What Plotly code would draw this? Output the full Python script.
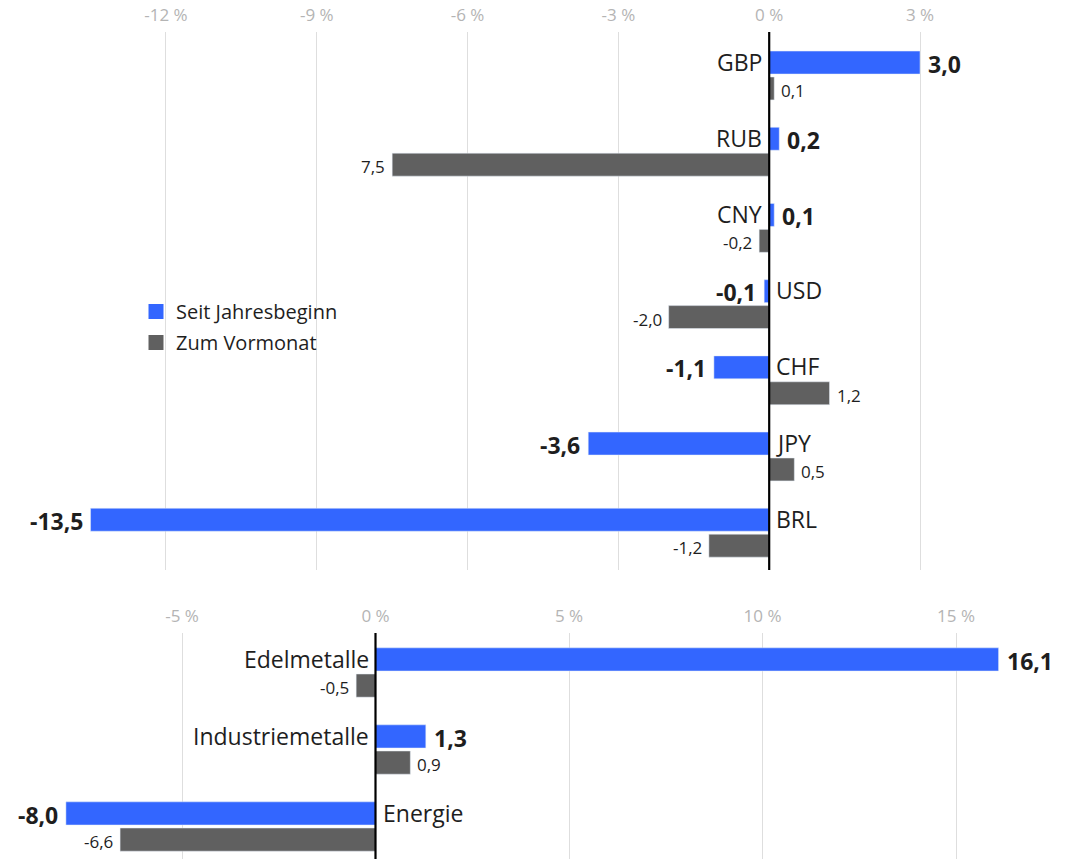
import plotly.graph_objects as go

# ---------------- data ----------------
currencies = ["GBP", "RUB", "CNY", "USD", "CHF", "JPY", "BRL"]
cur_ytd = [3.0, 0.2, 0.1, -0.1, -1.1, -3.6, -13.5]          # Seit Jahresbeginn
cur_mom = [0.1, -7.5, -0.2, -2.0, 1.2, 0.5, -1.2]           # Zum Vormonat (bar as drawn)
cur_mom_labels = ["0,1", "7,5", "-0,2", "-2,0", "1,2", "0,5", "-1,2"]

commodities = ["Edelmetalle", "Industriemetalle", "Energie"]
com_ytd = [16.1, 1.3, -8.0]
com_mom = [-0.5, 0.9, -6.6]
com_mom_labels = ["-0,5", "0,9", "-6,6"]

top_tickvals = [-12, -9, -6, -3, 0, 3]
top_ticktext = ["-12 %", "-9 %", "-6 %", "-3 %", "0 %", "3 %"]
bot_tickvals = [-5, 0, 5, 10, 15]
bot_ticktext = ["-5 %", "0 %", "5 %", "10 %", "15 %"]

series_names = ["Seit Jahresbeginn", "Zum Vormonat"]

# ---------------- style ----------------
BLUE = "#3366FF"
GRAY = "#606060"
TXT = "#1e1e1e"
FONT = "Open Sans"
W, H = 1075, 859


def fmt(v):
    return f"{v:.1f}".replace(".", ",")


fig = go.Figure()

# top panel bars
fig.add_trace(go.Bar(y=currencies, x=cur_ytd, orientation="h", marker_color=BLUE,
                     xaxis="x", yaxis="y", showlegend=False, hoverinfo="x+y"))
fig.add_trace(go.Bar(y=currencies, x=cur_mom, orientation="h", marker_color=GRAY,
                     xaxis="x", yaxis="y", showlegend=False, hoverinfo="x+y"))
# bottom panel bars
fig.add_trace(go.Bar(y=commodities, x=com_ytd, orientation="h", marker_color=BLUE,
                     xaxis="x2", yaxis="y2", showlegend=False, hoverinfo="x+y"))
fig.add_trace(go.Bar(y=commodities, x=com_mom, orientation="h", marker_color=GRAY,
                     xaxis="x2", yaxis="y2", showlegend=False, hoverinfo="x+y"))

# legend entries
for name, col in zip(series_names, [BLUE, GRAY]):
    fig.add_trace(go.Scatter(x=[None], y=[None], mode="markers", name=name,
                             legendgroup=name,
                             marker=dict(symbol="square", size=15, color=col),
                             xaxis="x", yaxis="y"))

annotations = []


def add_labels(cats, ytd, mom, mom_labels, xref, yref):
    for c, a, b, bl in zip(cats, ytd, mom, mom_labels):
        # category label next to zero line, on the opposite side of the blue bar
        annotations.append(dict(
            x=0, y=c, xref=xref, yref=yref, text=c, showarrow=False,
            xanchor="right" if a >= 0 else "left", xshift=-5 if a >= 0 else 5,
            yshift=14, font=dict(family=FONT, size=23, color=TXT)))
        # blue value
        annotations.append(dict(
            x=a, y=c, xref=xref, yref=yref, text="<b>" + fmt(a) + "</b>", showarrow=False,
            xanchor="left" if a >= 0 else "right", xshift=6 if a >= 0 else -6,
            yshift=12, font=dict(family=FONT, size=23, color=TXT)))
        # gray value
        annotations.append(dict(
            x=b, y=c, xref=xref, yref=yref, text=bl, showarrow=False,
            xanchor="left" if b >= 0 else "right", xshift=5 if b >= 0 else -5,
            yshift=-15, font=dict(family=FONT, size=17, color=TXT)))


add_labels(currencies, cur_ytd, cur_mom, cur_mom_labels, "x", "y")
add_labels(commodities, com_ytd, com_mom, com_mom_labels, "x2", "y2")

# geometry (pixel-based)
top_y0, top_y1 = 570, 32
bot_y0, bot_y1 = 859, 633
top_zero, top_scale = 769.2, 50.27
bot_zero, bot_scale = 375.5, 38.7

top_band = 76.2
bot_band = 77.0

axis_common = dict(showline=False, zeroline=False, ticks="", side="top",
                   showgrid=True, gridcolor="#dedede", gridwidth=1,
                   tickfont=dict(family=FONT, size=17, color="#b4b4b4"),
                   ticklabelstandoff=7,
                   automargin=False, fixedrange=True)

fig.update_layout(
    width=W, height=H,
    margin=dict(l=0, r=0, t=0, b=0),
    paper_bgcolor="white", plot_bgcolor="white",
    barmode="group", bargap=0.32, bargroupgap=0.115,
    font=dict(family=FONT, color=TXT),
    xaxis=dict(domain=[0, 1], anchor="y",
               range=[-top_zero / top_scale, (W - top_zero) / top_scale],
               tickvals=top_tickvals, ticktext=top_ticktext, **axis_common),
    yaxis=dict(domain=[1 - top_y0 / H, 1 - top_y1 / H], anchor="x",
               range=[-0.571 + (top_y0 - top_y1) / top_band, -0.571],
               showticklabels=False, showgrid=False, zeroline=False,
               automargin=False, fixedrange=True),
    xaxis2=dict(domain=[0, 1], anchor="y2",
                range=[-bot_zero / bot_scale, (W - bot_zero) / bot_scale],
                tickvals=bot_tickvals, ticktext=bot_ticktext, **axis_common),
    yaxis2=dict(domain=[1 - bot_y0 / H, 1 - bot_y1 / H], anchor="x2",
                range=[-0.513 + (bot_y0 - bot_y1) / bot_band, -0.513],
                showticklabels=False, showgrid=False, zeroline=False,
                automargin=False, fixedrange=True),
    legend=dict(x=136 / W, y=1 - 292 / H, xanchor="left", yanchor="top",
                bgcolor="rgba(0,0,0,0)", font=dict(family=FONT, size=20, color=TXT),
                traceorder="grouped", tracegroupgap=2, itemclick=False),
    annotations=annotations,
    shapes=[
        dict(type="line", xref="x", yref="y domain", x0=0, x1=0, y0=0, y1=1,
             line=dict(color="black", width=2.2), layer="above"),
        dict(type="line", xref="x2", yref="y2 domain", x0=0, x1=0, y0=0, y1=1,
             line=dict(color="black", width=2.2), layer="above"),
    ],
)

fig.write_html("out.html")
